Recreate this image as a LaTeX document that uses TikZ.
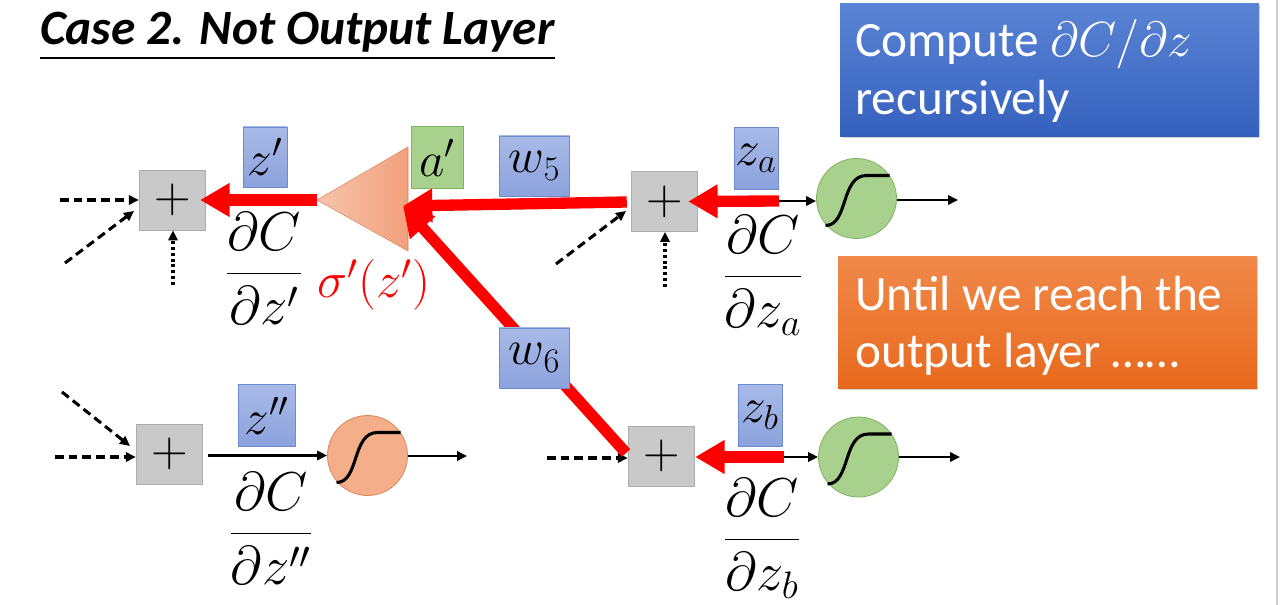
\RequirePackage{fix-cm}
\documentclass[tikz,border=0pt]{standalone}
\usepackage[no-math]{fontspec}
\setmainfont{Carlito}
\usetikzlibrary{arrows.meta,shadows}
\definecolor{plusfill}{HTML}{C9C9C9}
\definecolor{plusdraw}{HTML}{ADADAD}
\definecolor{lbltop}{HTML}{A8BAE8}
\definecolor{lblbot}{HTML}{8CA2DC}
\definecolor{lbldraw}{HTML}{6E8CCB}
\definecolor{grnfill}{HTML}{A9D18E}
\definecolor{grndraw}{HTML}{7FB45E}
\definecolor{orgfill}{HTML}{F4AE8A}
\definecolor{orgdraw}{HTML}{E0855A}
\definecolor{trileft}{HTML}{F7C4AC}
\definecolor{triright}{HTML}{F2A07C}
\definecolor{bluetop}{HTML}{5A84D4}
\definecolor{bluebot}{HTML}{3560BE}
\definecolor{ortop}{HTML}{F0894A}
\definecolor{orbot}{HTML}{E8691C}
\definecolor{redarr}{HTML}{FF0000}
\definecolor{edgegray}{HTML}{CFCFCF}
\begin{document}
\begin{tikzpicture}[x=0.75pt,y=-0.75pt,
  plusbox/.style={draw=plusdraw, line width=0.6pt, fill=plusfill, minimum width=50pt, minimum height=45pt, inner sep=0pt, font=\fontsize{38}{40}\selectfont},
  lbl/.style={draw=lbldraw, line width=0.6pt, top color=lbltop, bottom color=lblbot, inner sep=0pt, font=\fontsize{37}{40}\selectfont},
  glbl/.style={draw=grndraw, line width=0.6pt, fill=grnfill, inner sep=0pt, font=\fontsize{37}{40}\selectfont},
  sigcirc/.style={circle, minimum size=60pt, inner sep=0pt, line width=0.6pt},
  redarrow/.style={draw=redarr, line width=8.5pt, -{Triangle[length=22pt,width=24pt]}},
  blk/.style={draw=black, line width=1.8pt, -{Triangle[length=7.5pt,width=7pt]}},
  dsh/.style={draw=black, line width=2.3pt, dash pattern=on 6.5pt off 3.8pt, -{Triangle[length=7.5pt,width=7pt]}},
  dtt/.style={draw=black, line width=2.3pt, dash pattern=on 2.2pt off 2.2pt, -{Triangle[length=7.5pt,width=7pt]}},
  frac/.style={anchor=base, inner sep=0pt, font=\fontsize{41}{48}\selectfont},
  sig/.pic={\draw[line width=2.3pt] (-31,27) .. controls (-8,27) and (-16,-23) .. (10,-23) -- (33,-23);},
  txt/.style={anchor=base west, inner sep=0pt, text=white, font=\fontsize{37}{44}\selectfont}
]
\useasboundingbox (0,0) rectangle (1280,605);
\fill[white] (0,0) rectangle (1280,605);
\draw[edgegray, line width=1.5pt] (1277,0) -- (1277,605);

% title
\node[anchor=base west, inner sep=0pt, font=\fontsize{37}{44}\selectfont\bfseries\itshape] (title) at (40,45) {Case 2. Not Output Layer};
\coordinate (ulA) at (40,58);
\coordinate (ulB) at (555,58);
\draw[line width=2.2pt] (ulA) -- (ulB);

% side boxes
\node[draw=none, top color=bluetop, bottom color=bluebot, minimum width=314pt, minimum height=100pt, inner sep=0pt, drop shadow={opacity=0.35, shadow xshift=1.2pt, shadow yshift=-1.2pt}] (bluebox) at (1049.5,70) {};
\node[txt] (bt1) at (855,57) {Compute $\partial C/\partial z$};
\node[txt] (bt2) at (855,115) {recursively};
\node[draw=none, top color=ortop, bottom color=orbot, minimum width=314pt, minimum height=99pt, inner sep=0pt, drop shadow={opacity=0.35, shadow xshift=1.2pt, shadow yshift=-1.2pt}] (orbox) at (1047.5,322.5) {};
\node[txt] (ot1) at (855,311) {Until we reach the};
\node[txt] (ot2) at (855,368) {output layer ……};

% plus boxes
\node[plusbox] (p1) at (172.5,200) {$+$};
\node[plusbox] (p2) at (664.5,201.5) {$+$};
\node[plusbox] (p3) at (169.5,454) {$+$};
\node[plusbox] (p4) at (661.5,456) {$+$};

% sigmoid circles
\node[sigcirc, draw=grndraw, fill=grnfill] (ca) at (856.5,198.5) {};
\node[sigcirc, draw=grndraw, fill=grnfill] (cb) at (858.5,457) {};
\node[sigcirc, draw=orgdraw, fill=orgfill] (cc) at (367.5,455.5) {};
\pic at (ca) {sig};
\pic at (cb) {sig};
\pic at (cc) {sig};

% triangle neuron
\coordinate (tapex) at (317,200);
\coordinate (ttop) at (408,147);
\coordinate (tbot) at (408,251);
\shade[left color=trileft, right color=triright] (tapex) -- (ttop) -- (tbot) -- cycle;
\draw[orgdraw, line width=0.4pt] (tapex) -- (ttop) -- (tbot) -- cycle;

% dashed inputs
\coordinate (d1a) at (60,200);
\coordinate (d1b) at (65,263);
\coordinate (d1c) at (173,285);
\draw[dsh] (d1a) -- (p1.west);
\draw[dsh] (d1b) -- (134,211);
\draw[dtt] (d1c) -- (p1.south -| d1c);
\coordinate (d2b) at (556,264);
\coordinate (d2c) at (665,287);
\draw[dsh] (d2b) -- (626,211);
\draw[dtt] (d2c) -- (p2.south -| d2c);
\coordinate (d3a) at (55,457);
\coordinate (d3b) at (62,392);
\draw[dsh] (d3a) -- (p3.west |- d3a);
\draw[dsh] (d3b) -- (130,446);
\coordinate (d4a) at (547,458);
\draw[dsh] (d4a) -- (p4.west |- d4a);

% black forward arrows
\coordinate (zaend) at (779,201);
\coordinate (zbend) at (784,457);
\coordinate (outa) at (958,200);
\coordinate (outb) at (960,457);
\coordinate (outc) at (467,456);
\draw[blk] (zaend) -- (ca.west |- zaend);
\draw[blk] (ca.east |- outa) -- (outa);
\draw[blk] (zbend) -- (cb.west |- zbend);
\draw[blk] (cb.east |- outb) -- (outb);
\draw[blk] (p3.east |- cc) ++(5,0) -- (cc.west);
\draw[blk] (cc.east |- outc) -- (outc);

% red backward arrows
\coordinate (tip) at (403,206);
\draw[redarrow] (tapex) -- ([xshift=-4.5pt]p1.east);
\draw[redarrow] (p2.west |- 0,202) ++(-4,0) -- (tip);
\draw[redarrow] (626,453) -- (tip);
\draw[redarrow] (zaend) -- ([xshift=-7.5pt]p2.east);
\draw[redarrow] (zbend) -- (p4.east |- zbend);

% value labels
\node[lbl, minimum width=33pt, minimum height=45pt] (lz1) at (265,157) {$z'$};
\node[glbl, minimum width=39pt, minimum height=46pt] (la1) at (437,157.5) {$a'$};
\node[lbl, minimum width=53pt, minimum height=45pt] (lw5) at (534.5,166) {$w_5$};
\node[lbl, minimum width=33pt, minimum height=46pt] (lza) at (756,158.5) {$z_a$};
\node[lbl, minimum width=53pt, minimum height=45pt] (lw6) at (534.5,358) {$w_6$};
\node[lbl, minimum width=43pt, minimum height=46pt] (lz2) at (267,415.5) {$z''$};
\node[lbl, minimum width=33pt, minimum height=46pt] (lzb) at (760,415.5) {$z_b$};

% derivatives
\node[frac] (f1) at (264,287) {$\displaystyle\frac{\partial C}{\partial z'}$};
\node[frac] (f2) at (763,290) {$\displaystyle\frac{\partial C}{\partial z_a}$};
\node[frac] (f3) at (271,547) {$\displaystyle\frac{\partial C}{\partial z''}$};
\node[frac] (f4) at (762,553) {$\displaystyle\frac{\partial C}{\partial z_b}$};
\node[anchor=base, inner sep=0pt, text=redarr, font=\fontsize{38}{44}\selectfont] (sg) at (374,298) {$\sigma'(z')$};
\end{tikzpicture}
\end{document}
